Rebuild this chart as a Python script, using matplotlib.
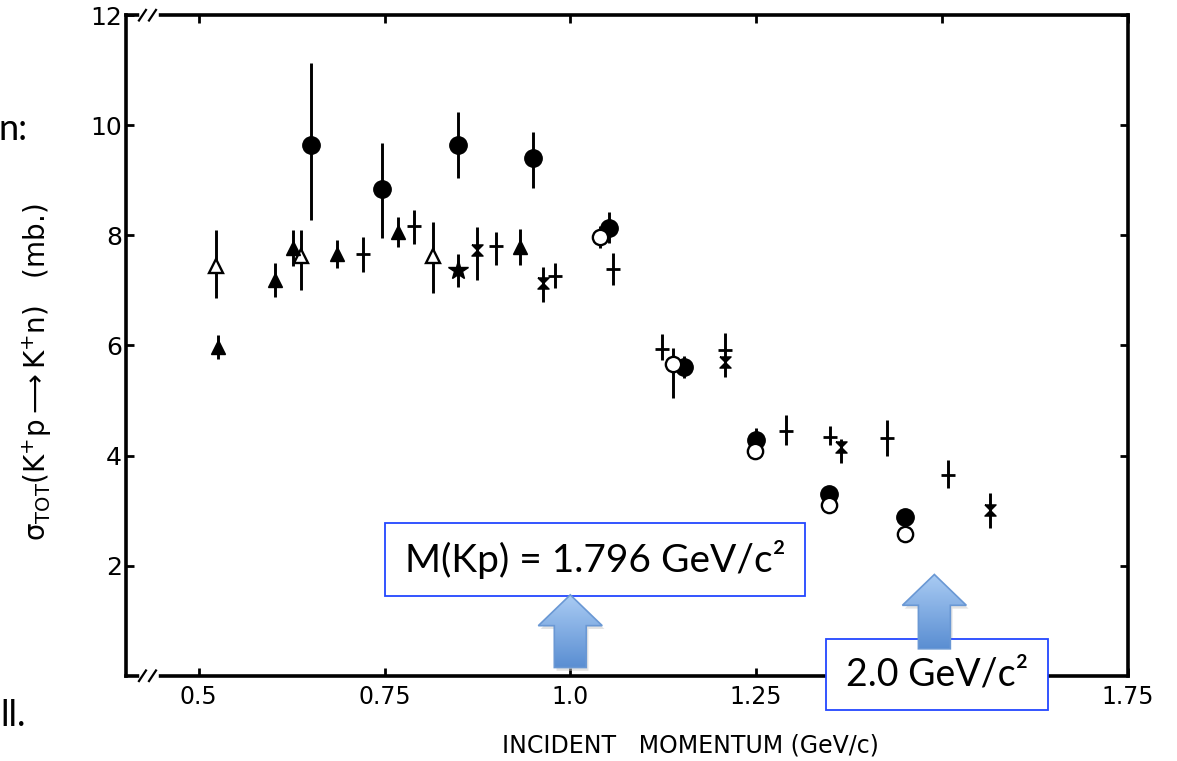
import numpy as np
import matplotlib
matplotlib.use('Agg')
import matplotlib.pyplot as plt
from matplotlib.patches import Polygon, Rectangle
from matplotlib.colors import LinearSegmentedColormap
from matplotlib.path import Path

# total cross section K+p -> K+n (mb) vs incident momentum (GeV/c)

# filled circles
fc_p = [0.651, 0.746, 0.849, 0.950, 1.052, 1.153, 1.250, 1.348, 1.450]
fc_s = [9.64, 8.84, 9.64, 9.40, 8.13, 5.61, 4.28, 3.30, 2.89]
fc_lo = [1.36, 0.89, 0.60, 0.54, 0.27, 0.20, 0.20, 0.15, 0.12]
fc_hi = [1.49, 0.84, 0.60, 0.48, 0.30, 0.20, 0.22, 0.15, 0.12]

# open circles
oc_p = [1.040, 1.138, 1.248, 1.348, 1.451]
oc_s = [7.97, 5.66, 4.08, 3.10, 2.58]
oc_lo = [0.20, 0.61, 0.12, 0.10, 0.10]
oc_hi = [0.20, 0.30, 0.12, 0.10, 0.10]

# open triangles
ot_p = [0.523, 0.637, 0.815]
ot_s = [7.44, 7.63, 7.63]
ot_lo = [0.58, 0.63, 0.68]
ot_hi = [0.66, 0.47, 0.61]

# filled triangles
ft_p = [0.526, 0.602, 0.627, 0.686, 0.768, 0.933]
ft_s = [5.97, 7.19, 7.77, 7.66, 8.06, 7.79]
ft_err = [0.22, 0.31, 0.33, 0.25, 0.27, 0.32]

# hourglass symbols
hg_p = [0.874, 0.963, 1.208, 1.364, 1.565]
hg_s = [7.73, 7.13, 5.70, 4.16, 3.01]
hg_lo = [0.54, 0.34, 0.27, 0.29, 0.32]
hg_hi = [0.42, 0.30, 0.00, 0.15, 0.31]

# star
st_p = [0.849]
st_s = [7.37]
st_err = [0.30]

# plain crosses
cr_p = [0.721, 0.790, 0.900, 0.979, 1.057, 1.124, 1.208, 1.290, 1.349, 1.426, 1.509]
cr_s = [7.66, 8.17, 7.81, 7.26, 7.39, 5.94, 5.92, 4.45, 4.34, 4.32, 3.65]
cr_lo = [0.33, 0.33, 0.35, 0.22, 0.29, 0.20, 0.15, 0.26, 0.15, 0.33, 0.24]
cr_hi = [0.31, 0.29, 0.25, 0.24, 0.29, 0.27, 0.31, 0.29, 0.20, 0.33, 0.27]

x_ticks = [0.5, 0.75, 1.0, 1.25, 1.5, 1.75]
x_ticklabels = ['0.5', '0.75', '1.0', '1.25', '1.5', '1.75']
y_ticks = [2, 4, 6, 8, 10, 12]

# thresholds marked with arrows: (momentum, label)
marks = [(1.0, 'M(Kp) = 1.796 GeV/c\u00b2'), (1.49, '2.0 GeV/c\u00b2')]

plain = ['DejaVu Sans']
slide = ['Lato', 'DejaVu Sans']

fig = plt.figure(figsize=(11.77, 7.61), dpi=100)
ax = fig.add_axes([0.107, 0.112, 0.851, 0.868])

eb = dict(fmt='none', ecolor='black', elinewidth=2.1, capsize=0, zorder=3)
ax.errorbar(fc_p, fc_s, yerr=[fc_lo, fc_hi], **eb)
ax.errorbar(oc_p, oc_s, yerr=[oc_lo, oc_hi], **eb)
ax.errorbar(ot_p, ot_s, yerr=[ot_lo, ot_hi], **eb)
ax.errorbar(ft_p, ft_s, yerr=ft_err, **eb)
ax.errorbar(hg_p, hg_s, yerr=[hg_lo, hg_hi], **eb)
ax.errorbar(st_p, st_s, yerr=st_err, **eb)
ax.errorbar(cr_p, cr_s, yerr=[cr_lo, cr_hi], **eb)

ax.plot(cr_p, cr_s, ls='none', marker='_', ms=10, mew=2.0, color='black', zorder=4)
ax.plot(fc_p, fc_s, ls='none', marker='o', ms=12.5, color='black', zorder=4)
ax.plot(oc_p, oc_s, ls='none', marker='o', ms=11, mfc='white', mec='black', mew=1.7, zorder=4)
ax.plot(ot_p, ot_s, ls='none', marker='^', ms=10.5, mfc='white', mec='black', mew=1.7, zorder=4)
ax.plot(ft_p, ft_s, ls='none', marker='^', ms=10.5, color='black', zorder=4)
hourglass = Path([(-1, 1), (1, 1), (-1, -1), (1, -1), (-1, 1)])
ax.plot(hg_p, hg_s, ls='none', marker=hourglass, ms=8, color='black', zorder=4)
ax.plot(st_p, st_s, ls='none', marker='*', ms=15, color='black', zorder=4)

ax.set_xlim(0.402, 1.75)
ax.set_ylim(0, 12)
ax.set_xticks(x_ticks)
ax.set_xticklabels(x_ticklabels, family=plain, fontsize=17)
ax.set_yticks(y_ticks)
ax.set_yticklabels([str(v) for v in y_ticks], family=plain, fontsize=18)
ax.tick_params(direction='in', length=6, width=2, top=True, right=True, pad=7)
ax.tick_params(axis='y', pad=3)
for s in ax.spines.values():
    s.set_linewidth(2.6)

# axis break marks near the origin
for yb in (0, 1):
    ax.plot([0.016, 0.030], [yb, yb], transform=ax.transAxes, color='white',
            lw=4, clip_on=False, zorder=6)
    for dx in (0.016, 0.026):
        ax.plot([dx - 0.003, dx + 0.004], [yb - 0.008, yb + 0.008], transform=ax.transAxes,
                color='black', lw=1.6, clip_on=False, zorder=7)

ax.set_xlabel('INCIDENT   MOMENTUM (GeV/c)', family=plain, fontsize=17)
ax.xaxis.set_label_coords(0.564, -0.088)
ax.set_ylabel(r'$\mathrm{\sigma_{TOT}(K^{+}p \longrightarrow K^{+}n)}$   (mb.)', fontsize=20)
ax.yaxis.set_label_coords(-0.072, 0.46)

# blue up-arrows with a vertical gradient
cmap = LinearSegmentedColormap.from_list('arr', ['#5a8ed2', '#a9cbf3'])
grad = np.linspace(0, 1, 64).reshape(-1, 1)


def up_arrow(x, y0, y1):
    hw, sw, hl = 0.043, 0.0215, 0.56
    pts = [(x - sw, y0), (x + sw, y0), (x + sw, y1 - hl), (x + hw, y1 - hl),
           (x, y1), (x - hw, y1 - hl), (x - sw, y1 - hl)]
    shadow = Polygon([(px + 0.003, py - 0.06) for px, py in pts], closed=True,
                     fc='#c8c8c8', ec='none', alpha=0.5, zorder=7, clip_on=False)
    ax.add_patch(shadow)
    poly = Polygon(pts, closed=True, fc='none', ec='#6a98d4', lw=1.2, zorder=9, clip_on=False)
    ax.add_patch(poly)
    im = ax.imshow(grad, cmap=cmap, origin='lower', aspect='auto',
                   extent=[x - hw, x + hw, y0, y1], zorder=8, interpolation='bilinear')
    im.set_clip_path(poly)


up_arrow(marks[0][0], 0.15, 1.47)
up_arrow(marks[1][0], 0.49, 1.84)


def label_box(x0, y0, x1, y1, text, size):
    # box given in figure pixels from the top-left corner
    W, H = 1177, 761
    r = Rectangle((x0 / W, 1 - y1 / H), (x1 - x0) / W, (y1 - y0) / H,
                  transform=fig.transFigure, fc='white', ec='#2346ff', lw=1.3,
                  zorder=7.5, clip_on=False)
    ax.add_patch(r)
    ax.text((x0 + x1) / 2 / W, 1 - (y0 + y1) / 2 / H, text, transform=fig.transFigure,
            ha='center', va='center', family=slide, fontsize=size, zorder=7.6)


label_box(385, 523, 805, 596, marks[0][1], 28)
label_box(826, 639, 1048, 710, marks[1][1], 27)

ax.set_xlim(0.402, 1.75)
ax.set_ylim(0, 12)

# slide text cut off at the left edge
fig.text(28 / 1177, 1 - 130 / 761, 'n:', ha='right', va='center', family=slide, fontsize=26)
fig.text(26 / 1177, 1 - 716 / 761, 'll.', ha='right', va='center', family=slide, fontsize=26)

fig.savefig('out.png', dpi=100)
